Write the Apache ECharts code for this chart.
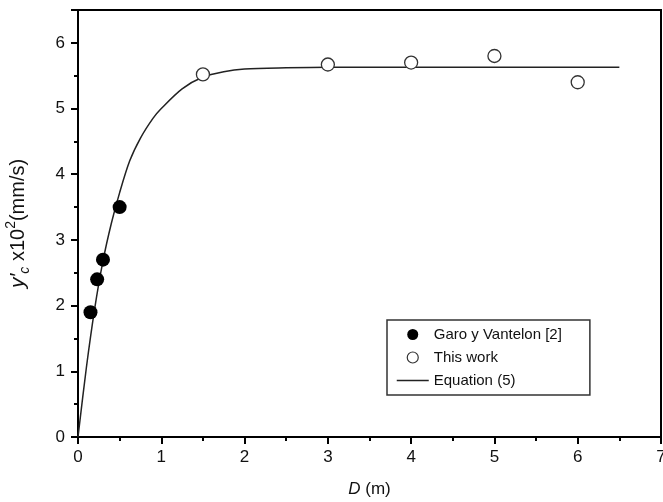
<!DOCTYPE html>
<html>
<head>
<meta charset="utf-8">
<script src="https://cdn.jsdelivr.net/npm/echarts@6/dist/echarts.min.js"></script>
<style>
html,body{margin:0;padding:0;background:#fff;}
#c{width:663px;height:502px;}
</style>
</head>
<body>
<div id="c"></div>
<script>
// Data
var garoData = [[0.15, 1.9], [0.23, 2.4], [0.3, 2.7], [0.5, 3.5]];
var thisWorkData = [[1.5, 5.52], [3.0, 5.67], [4.0, 5.7], [5.0, 5.8], [6.0, 5.4]];
var equationData = [[0, 0], [0.1, 1.05], [0.2, 1.95], [0.3, 2.68], [0.4, 3.25], [0.5, 3.72],
  [0.62, 4.2], [0.75, 4.55], [0.9, 4.85], [1.0, 5.0], [1.25, 5.3], [1.5, 5.48],
  [1.75, 5.56], [2.0, 5.6], [2.5, 5.62], [3.0, 5.63], [4.0, 5.63], [5.0, 5.63], [6.5, 5.63]];
var seriesNames = ['Garo y Vantelon [2]', 'This work', 'Equation (5)'];

var FONT = 'Liberation Sans, Arial, sans-serif';
var chart = echarts.init(document.getElementById('c'), null, {renderer: 'canvas'});
chart.setOption({
  animation: false,
  backgroundColor: '#fff',
  grid: {left: 78, right: 2, top: 10, bottom: 65, show: true, borderColor: '#000', borderWidth: 2,
    containLabel: false, outerBoundsMode: 'none'},
  legend: {
    orient: 'vertical', left: 387, top: 320,
    data: [
      {name: seriesNames[0], icon: 'circle', itemStyle: {color: '#000', opacity: 1, borderWidth: 0}},
      {name: seriesNames[1], icon: 'circle', itemStyle: {color: '#fff', opacity: 1, borderColor: '#333', borderWidth: 1.2}},
      {name: seriesNames[2], itemStyle: {opacity: 0}, lineStyle: {color: '#222', width: 1.5}}
    ],
    itemWidth: 32, itemHeight: 11, itemGap: 8,
    padding: [7, 28, 7, 9],
    borderColor: '#333', borderWidth: 1.5,
    textStyle: {fontFamily: FONT, fontSize: 15, color: '#111'}
  },
  xAxis: {
    type: 'value', min: 0, max: 7, interval: 1,
    name: '{i|D} (m)', nameLocation: 'middle', nameGap: 44,
    nameTextStyle: {fontFamily: FONT, fontSize: 17, color: '#111', rich: {i: {fontStyle: 'italic', fontFamily: FONT, fontSize: 17}}},
    axisLine: {show: true, lineStyle: {color: '#000', width: 2}},
    axisTick: {show: true, inside: false, length: 7, lineStyle: {color: '#000', width: 2}},
    minorTick: {show: true, splitNumber: 2, length: 4, lineStyle: {color: '#000', width: 2}},
    axisLabel: {fontFamily: FONT, fontSize: 17, color: '#111', margin: 12},
    splitLine: {show: false}
  },
  yAxis: {
    type: 'value', min: 0, max: 6.5, interval: 1,
    name: '{i|y′}{sub|c}{n| x10}{sup|2}{n|(mm/s)}', nameLocation: 'middle', nameGap: 46, nameRotate: 90,
    nameTextStyle: {fontFamily: FONT, fontSize: 20, color: '#111',
      rich: {
        i: {fontStyle: 'italic', fontFamily: FONT, fontSize: 21, lineHeight: 28},
        n: {fontFamily: FONT, fontSize: 20, lineHeight: 28},
        sub: {fontStyle: 'italic', fontFamily: FONT, fontSize: 14, verticalAlign: 'bottom', lineHeight: 28},
        sup: {fontFamily: FONT, fontSize: 14, verticalAlign: 'top', lineHeight: 28}
      }},
    axisLine: {show: true, lineStyle: {color: '#000', width: 2}},
    axisTick: {show: true, inside: false, length: 7, lineStyle: {color: '#000', width: 2}},
    minorTick: {show: true, splitNumber: 2, length: 4, lineStyle: {color: '#000', width: 2}},
    axisLabel: {fontFamily: FONT, fontSize: 17, color: '#111', margin: 13,
      formatter: function (v) { return Number.isInteger(v) ? String(v) : ''; }},
    splitLine: {show: false}
  },
  series: [
    {name: seriesNames[2], type: 'line', data: equationData, smooth: 0.3,
      showSymbol: false, symbol: 'none',
      lineStyle: {color: '#222', width: 1.5}, itemStyle: {color: '#222'}, z: 1},
    {name: seriesNames[0], type: 'scatter', data: garoData, symbol: 'circle', symbolSize: 14,
      itemStyle: {color: '#000', opacity: 1}, z: 3},
    {name: seriesNames[1], type: 'scatter', data: thisWorkData, symbol: 'circle', symbolSize: 13,
      itemStyle: {color: '#fff', borderColor: '#333', borderWidth: 1.3, opacity: 1}, z: 3}
  ]
});
</script>
</body>
</html>
